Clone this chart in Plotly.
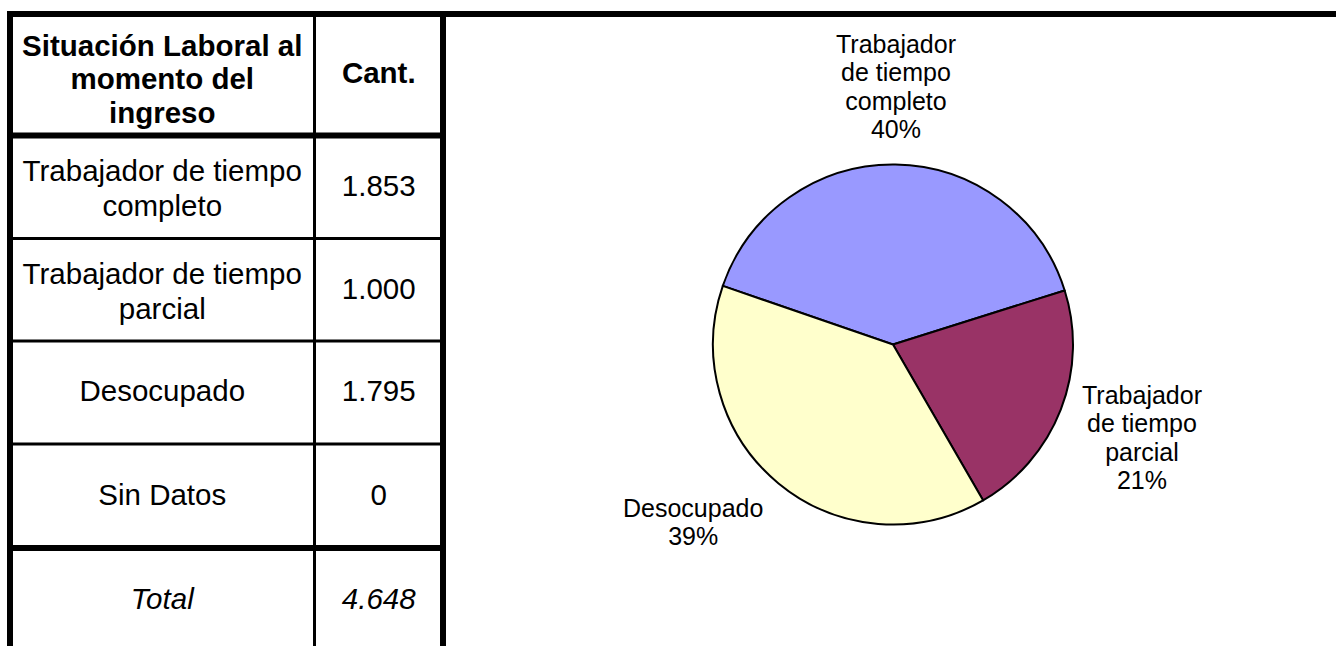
import math
import textwrap
import plotly.graph_objects as go

# ---- data ----
categories = ["Trabajador de tiempo completo", "Trabajador de tiempo parcial",
              "Desocupado", "Sin Datos"]
counts = [1853, 1000, 1795, 0]
header_labels = ["Situación Laboral al<br>momento del<br>ingreso", "Cant."]
total_label = "Total"
colors = ["#9999FF", "#993366", "#FFFFCC", "#CCFFFF"]

# ---- layout / style constants (pixels) ----
W, H = 1336, 646
FONT = "Liberation Sans, Arial, sans-serif"
col_edges = [10, 314.5, 443]
row_edges = [14, 135.5, 238.5, 341, 444, 548, 652]
PIE_CX, PIE_CY, PIE_R = 893, 344.5, 180
ROTATION = -71
TABLE_GLYPH = 29.5
PIE_GLYPH = 25
PIE_LINE = 21.8           # base size -> line spacing 1.3 * base
LABEL_GAP = 21


def fmt(v):
    return f"{v:,}".replace(",", ".")


def wrap(s, w):
    return "<br>".join(textwrap.wrap(s, w))


def sized(s, px):
    return "<br>".join(f'<span style="font-size:{px}px">{ln}</span>' for ln in s.split("<br>"))


def nudge(s):
    n = s.count("<br>") + 1
    return 2 + 3 * (n - 1)


total = sum(counts)

# ---- table text ----
tx, ty, tt, ts = [], [], [], []
cx = [(col_edges[0] + col_edges[1]) / 2, (col_edges[1] + col_edges[2]) / 2]
rc = [(row_edges[i] + row_edges[i + 1]) / 2 for i in range(len(row_edges) - 1)]


def cell(x, y, s, base, style=None):
    body = sized(s, TABLE_GLYPH)
    if style:
        body = f"<{style}>{body}</{style}>"
    tx.append(x); ty.append(y + nudge(s)); tt.append(body); ts.append(base)


for j in range(2):
    cell(cx[j], rc[0], header_labels[j], 25.8, "b")
for i, (c, v) in enumerate(zip(categories, counts)):
    cell(cx[0], rc[i + 1], wrap(c, 20), 27)
    cell(cx[1], rc[i + 1], fmt(v), 27)
cell(cx[0], rc[-1], total_label, 27, "i")
cell(cx[1], rc[-1], fmt(total), 27, "i")

fig = go.Figure()
fig.add_trace(go.Scatter(x=tx, y=ty, text=tt, mode="text", hoverinfo="skip",
                         textfont=dict(family=FONT, size=ts, color="black"),
                         showlegend=False))

# ---- pie (non-zero categories) ----
pc = [c for c, v in zip(categories, counts) if v > 0]
pv = [v for v in counts if v > 0]
pcol = [col for col, v in zip(colors, counts) if v > 0]
fig.add_trace(go.Pie(
    labels=pc, values=pv, textinfo="none",
    sort=False, direction="clockwise", rotation=ROTATION,
    marker=dict(colors=pcol, line=dict(color="black", width=2)),
    domain=dict(x=[(PIE_CX - PIE_R) / W, (PIE_CX + PIE_R) / W],
                y=[1 - (PIE_CY + PIE_R) / H, 1 - (PIE_CY - PIE_R) / H]),
    showlegend=False, hoverinfo="label+value+percent"))

# percentages rounded to sum 100 (largest remainder)
fr = [v / sum(pv) for v in pv]
base = [math.floor(f * 100) for f in fr]
order = sorted(range(len(fr)), key=lambda k: fr[k] * 100 - base[k], reverse=True)
for k in order[:100 - sum(base)]:
    base[k] += 1

annotations = []
cum = 0.0
lh = 1.3 * PIE_LINE
for lab, f, p in zip(pc, fr, base):
    mid = ROTATION + 360 * (cum + f / 2)
    cum += f
    th = math.radians(90 - mid)
    c, s = math.cos(th), math.sin(th)
    ax = PIE_CX + (PIE_R + LABEL_GAP) * c
    ay = PIE_CY - (PIE_R + LABEL_GAP) * s
    txt = wrap(lab, 10) + f"<br>{p}%"
    n = txt.count("<br>") + 1
    cy = ay - (n * lh / 2) * s
    xa = "left" if c > 0.3 else ("right" if c < -0.3 else "center")
    annotations.append(dict(x=ax, y=cy, xref="x", yref="y", text=sized(txt, PIE_GLYPH),
                            showarrow=False, xanchor=xa, yanchor="middle", align="center",
                            font=dict(family=FONT, size=PIE_LINE, color="black")))

# ---- table borders ----
shapes = []
thick, thin = 6, 3
shapes.append(dict(type="line", x0=7, x1=W + 5, y0=row_edges[0], y1=row_edges[0],
                   line=dict(color="black", width=thick)))
shapes.append(dict(type="line", x0=col_edges[0], x1=col_edges[0], y0=11, y1=H + 10,
                   line=dict(color="black", width=thick)))
shapes.append(dict(type="line", x0=col_edges[2], x1=col_edges[2], y0=11, y1=H + 10,
                   line=dict(color="black", width=thick)))
shapes.append(dict(type="line", x0=col_edges[1], x1=col_edges[1], y0=14, y1=H + 10,
                   line=dict(color="black", width=thin)))
for k, y in enumerate(row_edges[1:-1]):
    w = thick if k in (0, len(row_edges) - 3) else thin
    shapes.append(dict(type="line", x0=col_edges[0], x1=col_edges[2], y0=y, y1=y,
                       line=dict(color="black", width=w)))
for s_ in shapes:
    s_.update(xref="x", yref="y", layer="above")

fig.update_layout(
    width=W, height=H, margin=dict(l=0, r=0, t=0, b=0),
    paper_bgcolor="white", plot_bgcolor="white",
    xaxis=dict(range=[0, W], domain=[0, 1], visible=False, fixedrange=True),
    yaxis=dict(range=[H, 0], domain=[0, 1], visible=False, fixedrange=True),
    shapes=shapes, annotations=annotations, font=dict(family=FONT),
)
fig.write_html("out.html", config={"displayModeBar": False},
               post_script="document.body.style.margin='0';document.body.style.overflow='hidden';")
